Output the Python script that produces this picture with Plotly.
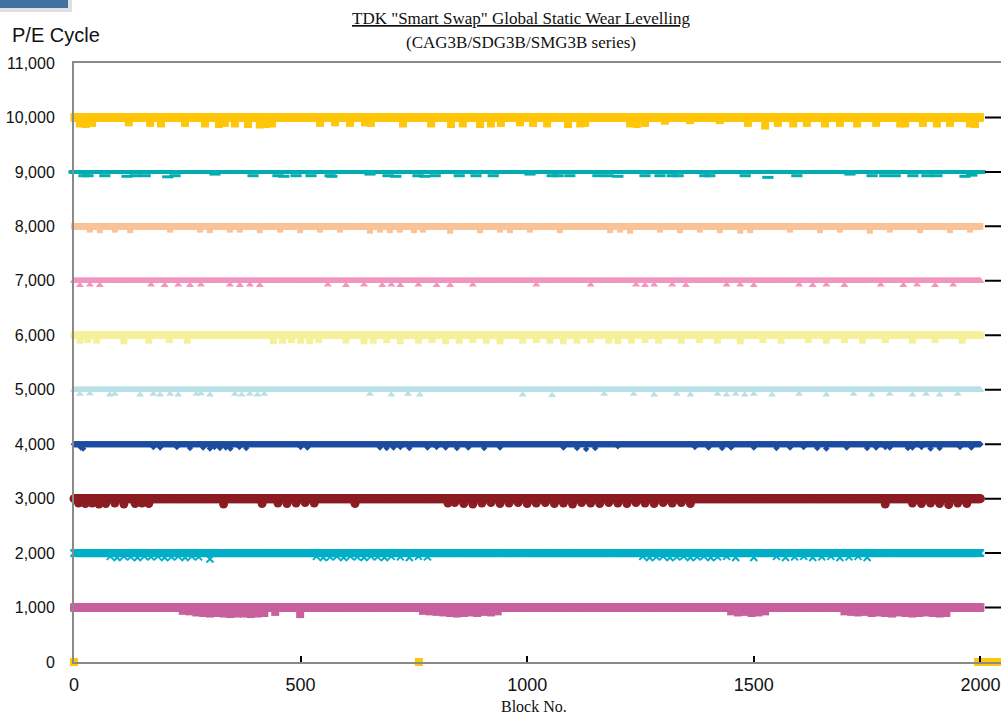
import plotly.graph_objects as go

# ---------------- data ----------------
blocks_max = 2000
levels = [10000, 9000, 8000, 7000, 6000, 5000, 4000, 3000, 2000, 1000]
colors = ["#FFC60A", "#00ADB0", "#F9C397", "#F197BF", "#F5F19A",
          "#B9E0E6", "#1E4DA0", "#8C1D23", "#00AFC7", "#C8609E"]
symbols = ["square", "line-ew", "square", "triangle-up", "square",
           "triangle-up", "diamond", "circle", "x-thin", "square"]
sizes = [8, 8, 6, 7, 7, 7, 5, 9, 7, 8]

# dips (block numbers and P/E values)
dip10000_x = [13, 26, 40, 121, 168, 192, 245, 289, 320, 333, 355, 384, 410, 424, 437, 543, 576, 609,
              642, 655, 726, 788, 832, 858, 896, 920, 942, 984, 1013, 1044, 1090, 1117, 1128, 1227,
              1242, 1260, 1304, 1359, 1425, 1487, 1525, 1553, 1587, 1617, 1657, 1690, 1728, 1770,
              1823, 1834, 1873, 1904, 1933, 1977, 1988]
dip10000_y = [9890, 9880, 9900, 9910, 9900, 9890, 9900, 9890, 9880, 9900, 9890, 9880, 9870, 9880, 9890,
              9900, 9910, 9900, 9910, 9900, 9890, 9890, 9880, 9890, 9880, 9890, 9900, 9910, 9900,
              9890, 9880, 9890, 9900, 9890, 9880, 9900, 9940, 9950, 9950, 9900, 9850, 9900, 9890,
              9900, 9890, 9900, 9890, 9900, 9890, 9890, 9900, 9890, 9900, 9890, 9880]

dip9000_x = [22, 31, 68, 117, 135, 157, 207, 223, 311, 395, 450, 463, 490, 523, 565, 569, 653, 693, 710,
             759, 774, 797, 850, 887, 925, 1006, 1055, 1068, 1094, 1156, 1178, 1200, 1260, 1293, 1320,
             1333, 1392, 1403, 1481, 1531, 1595, 1712, 1761, 1789, 1812, 1851, 1882, 1904, 1966, 1981]
dip9000_y = [8930, 8930, 8930, 8920, 8930, 8930, 8910, 8930, 8960, 8930, 8930, 8920, 8930, 8930, 8930,
             8920, 8960, 8930, 8920, 8930, 8920, 8930, 8930, 8930, 8930, 8960, 8930, 8930, 8930, 8930,
             8930, 8920, 8930, 8930, 8930, 8930, 8930, 8930, 8930, 8900, 8930, 8960, 8930, 8930, 8930,
             8930, 8930, 8930, 8920, 8940]

dip8000_x = [35, 57, 90, 124, 212, 278, 300, 344, 366, 410, 455, 499, 543, 587, 653, 675, 697, 719, 750,
             770, 830, 896, 940, 962, 1006, 1072, 1183, 1205, 1227, 1293, 1337, 1381, 1425, 1470, 1492,
             1580, 1646, 1690, 1756, 1800, 1867, 1933, 1977]
dip8000_y = [7940, 7930, 7940, 7930, 7940, 7940, 7930, 7940, 7940, 7930, 7940, 7930, 7940, 7940, 7920,
             7940, 7930, 7940, 7930, 7940, 7920, 7930, 7940, 7930, 7940, 7930, 7930, 7940, 7920, 7940,
             7930, 7940, 7930, 7920, 7930, 7940, 7930, 7940, 7920, 7940, 7930, 7930, 7940]

dip7000_x = [13, 35, 57, 170, 200, 230, 256, 280, 344, 366, 388, 410, 560, 600, 640, 680, 700, 720, 760,
             800, 830, 880, 1020, 1140, 1240, 1260, 1280, 1320, 1350, 1440, 1470, 1500, 1600, 1630, 1660,
             1700, 1780, 1830, 1860, 1900, 1940]
dip7000_y = [6920, 6930, 6920, 6930, 6920, 6930, 6920, 6930, 6930, 6920, 6930, 6920, 6930, 6920, 6930,
             6920, 6930, 6920, 6930, 6920, 6920, 6930, 6930, 6930, 6930, 6920, 6930, 6930, 6920, 6930,
             6930, 6920, 6930, 6920, 6930, 6920, 6930, 6920, 6930, 6920, 6930]

dip6000_x = [13, 30, 50, 110, 165, 210, 250, 440, 460, 480, 500, 520, 540, 600, 640, 660, 690, 720, 760,
             790, 820, 850, 880, 910, 940, 990, 1020, 1050, 1080, 1110, 1140, 1180, 1200, 1230, 1260,
             1290, 1340, 1380, 1420, 1470, 1520, 1560, 1620, 1660, 1700, 1740, 1790, 1850, 1900, 1960]
dip6000_y = [5910, 5920, 5910, 5900, 5910, 5920, 5910, 5900, 5910, 5920, 5910, 5900, 5920, 5910, 5900,
             5910, 5920, 5900, 5910, 5920, 5900, 5910, 5920, 5910, 5900, 5910, 5920, 5910, 5900, 5910,
             5920, 5910, 5900, 5910, 5920, 5910, 5910, 5920, 5910, 5900, 5920, 5910, 5920, 5910, 5920,
             5910, 5920, 5910, 5920, 5910]

dip5000_x = [13, 35, 79, 90, 146, 175, 190, 212, 230, 270, 280, 300, 355, 370, 388, 405, 420, 653, 700,
             737, 763, 990, 1055, 1170, 1235, 1280, 1330, 1360, 1420, 1440, 1460, 1480, 1500, 1540, 1600,
             1660, 1720, 1760, 1800, 1850, 1880, 1910, 1950]
dip5000_y = [4920, 4930, 4910, 4920, 4910, 4920, 4910, 4920, 4910, 4920, 4930, 4910, 4920, 4910, 4920,
             4910, 4920, 4920, 4910, 4920, 4910, 4910, 4900, 4920, 4920, 4910, 4920, 4910, 4920, 4910,
             4920, 4910, 4920, 4910, 4920, 4910, 4920, 4910, 4920, 4910, 4920, 4910, 4920]

dip4000_x = [15, 20, 175, 190, 227, 256, 285, 300, 310, 322, 335, 345, 365, 380, 500, 515, 675, 690, 705,
             720, 740, 780, 800, 820, 845, 870, 905, 940, 1080, 1110, 1130, 1150, 1200, 1370, 1400, 1430,
             1450, 1500, 1550, 1580, 1610, 1640, 1660, 1705, 1750, 1770, 1790, 1800, 1840, 1850, 1870,
             1890, 1910, 1955, 1980]
dip4000_y = [3940, 3920, 3950, 3940, 3950, 3930, 3940, 3920, 3950, 3930, 3940, 3920, 3950, 3930, 3950,
             3940, 3940, 3930, 3940, 3950, 3930, 3940, 3950, 3940, 3930, 3940, 3930, 3940, 3940, 3930,
             3910, 3930, 3960, 3950, 3940, 3930, 3940, 3940, 3930, 3940, 3950, 3930, 3920, 3940, 3930,
             3940, 3950, 3940, 3930, 3940, 3950, 3920, 3930, 3950, 3940]

dip3000_x = [10, 25, 40, 55, 70, 90, 110, 135, 150, 165, 330, 415, 450, 470, 490, 510, 530, 620, 825,
             840, 860, 880, 900, 920, 940, 960, 980, 1000, 1020, 1040, 1060, 1080, 1100, 1120, 1140, 1160,
             1180, 1200, 1220, 1240, 1260, 1280, 1300, 1320, 1340, 1360, 1790, 1850, 1870, 1890, 1910,
             1930, 1950, 1970]
dip3000_y = [2920, 2910, 2920, 2900, 2910, 2920, 2900, 2910, 2920, 2910, 2900, 2910, 2920, 2910, 2920,
             2930, 2920, 2910, 2920, 2930, 2910, 2900, 2920, 2930, 2910, 2920, 2930, 2910, 2920, 2930,
             2910, 2920, 2900, 2930, 2920, 2910, 2930, 2920, 2910, 2930, 2920, 2910, 2930, 2920, 2930,
             2910, 2900, 2920, 2910, 2920, 2910, 2890, 2920, 2910]

dip2000_x = [80, 95, 110, 125, 140, 155, 170, 185, 200, 215, 230, 245, 260, 275, 300, 535, 550, 565, 580,
             595, 610, 625, 640, 655, 670, 685, 700, 720, 740, 760, 780, 1255, 1270, 1285, 1300, 1315,
             1330, 1345, 1360, 1375, 1390, 1405, 1420, 1440, 1460, 1500, 1550, 1570, 1590, 1610, 1630,
             1650, 1670, 1690, 1710, 1730, 1750]
dip2000_y = [1940, 1920, 1940, 1930, 1920, 1940, 1930, 1940, 1920, 1930, 1940, 1920, 1940, 1930, 1890,
             1940, 1920, 1930, 1940, 1920, 1940, 1930, 1920, 1940, 1930, 1920, 1940, 1930, 1920, 1940,
             1930, 1940, 1920, 1930, 1940, 1920, 1930, 1940, 1920, 1930, 1940, 1920, 1930, 1940, 1920,
             1920, 1940, 1920, 1930, 1940, 1920, 1930, 1940, 1920, 1930, 1940, 1920]

dip1000_x = [240, 255, 270, 285, 300, 315, 330, 345, 360, 375, 390, 405, 420, 444, 499, 770, 785, 800, 815,
             830, 845, 860, 875, 890, 905, 920, 935, 1450, 1465, 1480, 1495, 1510, 1525, 1700, 1715, 1730,
             1745, 1760, 1775, 1790, 1805, 1820, 1835, 1850, 1865, 1880, 1895, 1910, 1925]
dip1000_y = [940, 930, 910, 900, 890, 900, 890, 880, 890, 890, 880, 890, 900, 920, 880, 940, 930, 920,
             910, 900, 890, 900, 910, 900, 920, 910, 930, 930, 910, 920, 900, 910, 930, 930, 920, 910,
             920, 900, 910, 900, 890, 910, 900, 890, 900, 910, 900, 890, 900]

dips_x = [dip10000_x, dip9000_x, dip8000_x, dip7000_x, dip6000_x,
          dip5000_x, dip4000_x, dip3000_x, dip2000_x, dip1000_x]
dips_y = [dip10000_y, dip9000_y, dip8000_y, dip7000_y, dip6000_y,
          dip5000_y, dip4000_y, dip3000_y, dip2000_y, dip1000_y]

# blocks of the top series that read 0 P/E cycles
zero_blocks = [0, 761, 1995, 2000, 2005, 2010, 2015, 2020, 2025, 2030, 2035, 2040, 2045, 2050]
# reference tick segments beyond the last block
ref_x = [2010, 2080]

x_ticks = [0, 500, 1000, 1500, 2000]
y_ticks = list(range(0, 11001, 1000))

# ---------------- figure ----------------
fig = go.Figure()

for i in reversed(range(len(levels))):
    lvl = levels[i]
    ys = [lvl] * (blocks_max + 1)
    for bx, by in zip(dips_x[i], dips_y[i]):
        ys[bx] = by
    xs = list(range(blocks_max + 1))
    if i == 0:
        for zb in zero_blocks:
            if zb <= blocks_max:
                ys[zb] = 0
    marker = dict(symbol=symbols[i], size=sizes[i], color=colors[i],
                  line=dict(width=0, color=colors[i]))
    if symbols[i] in ("line-ew", "x-thin"):
        marker["line"] = dict(width=3 if symbols[i] == "line-ew" else 2, color=colors[i])
    fig.add_trace(go.Scatter(x=xs, y=ys, mode="markers", marker=marker,
                             cliponaxis=False, showlegend=False, hoverinfo="skip"))

# zero readings beyond block 2000
beyond = [z for z in zero_blocks if z > blocks_max]
fig.add_trace(go.Scatter(x=beyond, y=[0] * len(beyond),
                         mode="markers", marker=dict(symbol="square", size=8, color=colors[0]),
                         cliponaxis=False, showlegend=False, hoverinfo="skip"))

for lvl in levels:
    fig.add_trace(go.Scatter(x=ref_x, y=[lvl, lvl], mode="lines",
                             line=dict(color="black", width=2),
                             showlegend=False, hoverinfo="skip"))

W, H = 1001, 715
L, T, B = 74, 63, 53
pw, ph = W - L, H - T - B

def px2paper(px, py):
    return (px - L) / pw, 1 - (py - T) / ph

fig.update_layout(
    width=W, height=H,
    margin=dict(l=L, r=0, t=T, b=B, pad=0, autoexpand=False),
    paper_bgcolor="white", plot_bgcolor="white",
    font=dict(family="Liberation Sans, Arial", color="#222"),
    xaxis=dict(range=[0, (W - L) / 0.4532], tickvals=x_ticks, ticktext=[str(v) for v in x_ticks],
               showgrid=False, zeroline=False, showline=True, linecolor="#8a8a8a", linewidth=2,
               mirror=True, ticks="inside", ticklen=6, tickwidth=2, tickcolor="black",
               tickfont=dict(size=18, family="Liberation Sans, Arial", color="#111"),
               ticklabelstandoff=5, automargin=False),
    yaxis=dict(range=[0, 11000], tickvals=y_ticks, tickformat=",",
               showgrid=False, zeroline=False, showline=True, linecolor="#8a8a8a", linewidth=2,
               ticks="", tickfont=dict(size=16, family="Liberation Sans, Arial", color="#111"),
               ticklabelstandoff=14, automargin=False),
)

annos = [
    dict(text="<u>TDK \"Smart Swap\" Global Static Wear Levelling</u>", pos=(521, 18),
         font=dict(family="Liberation Serif, Times New Roman", size=17, color="#111"), xanchor="center"),
    dict(text="(CAG3B/SDG3B/SMG3B series)", pos=(521, 43),
         font=dict(family="Liberation Serif, Times New Roman", size=17, color="#111"), xanchor="center"),
    dict(text="P/E Cycle", pos=(10, 35),
         font=dict(family="Liberation Sans, Arial", size=20, color="#111"), xanchor="left"),
    dict(text="Block No.", pos=(534, 706),
         font=dict(family="Liberation Serif, Times New Roman", size=16, color="#111"), xanchor="center"),
]
for a in annos:
    ax, ay = px2paper(*a["pos"])
    fig.add_annotation(text=a["text"], x=ax, y=ay, xref="paper", yref="paper",
                       xanchor=a["xanchor"], yanchor="middle", showarrow=False, font=a["font"])

# blue tab at top-left corner
x0, y0 = px2paper(0, 0)
x1, y1 = px2paper(68, 8)
sx1, sy1 = px2paper(72, 12)
fig.add_shape(type="rect", xref="paper", yref="paper", x0=x0, x1=sx1, y0=sy1, y1=y0,
              fillcolor="rgba(0,0,0,0.12)", line=dict(width=0), layer="below")
fig.add_shape(type="rect", xref="paper", yref="paper", x0=x0, x1=x1, y0=y1, y1=y0,
              fillcolor="#4270A0", line=dict(width=0))

fig.write_html("out.html",
               config={"displayModeBar": False},
               post_script="document.body.style.margin='0';document.body.style.padding='0';"
                           "document.body.style.overflow='hidden';")
